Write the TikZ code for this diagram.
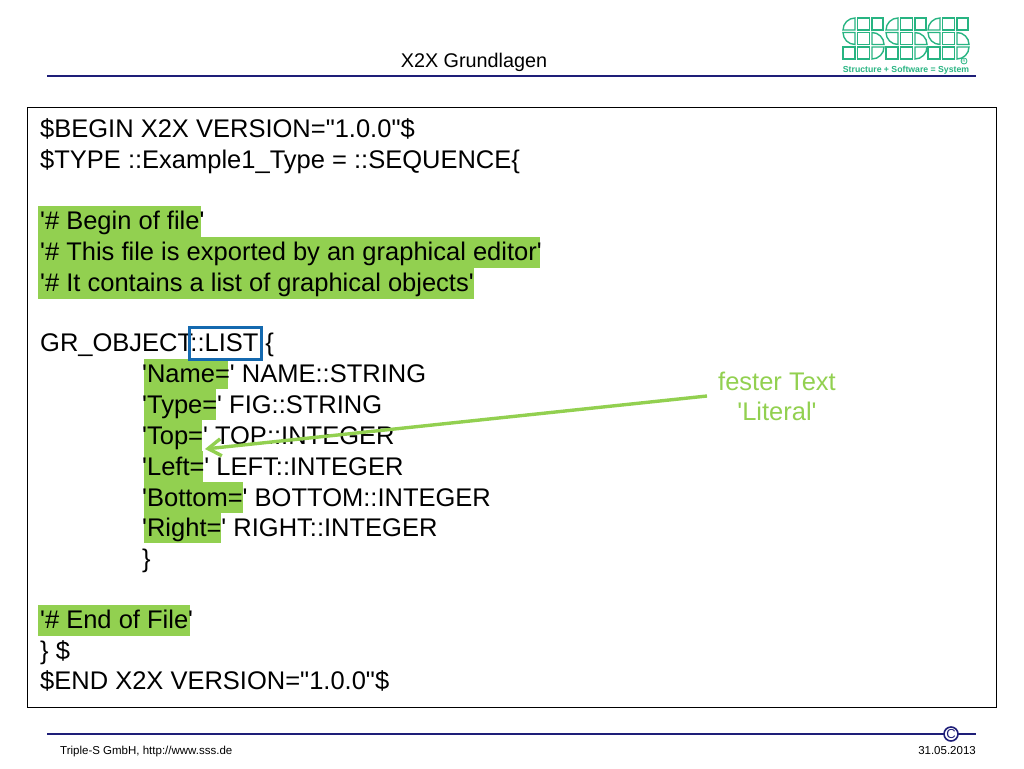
\documentclass[tikz,border=0pt]{standalone}
\usepackage{fontspec}
\setmainfont{Liberation Sans}[Ligatures=TeXOff]
\usetikzlibrary{arrows.meta}
\definecolor{hlgreen}{RGB}{146,208,80}
\definecolor{navyline}{RGB}{30,30,120}
\definecolor{boxblue}{RGB}{20,105,175}
\definecolor{logogreen}{RGB}{40,180,130}
\tikzset{
  codeline/.style={anchor=base west,inner sep=0pt,font=\fontsize{25.5}{30}\selectfont},
  mark green/.style={fill=hlgreen,draw=none},
  rule line/.style={draw=navyline,line width=1.1pt},
  logo cell/.style={draw=logogreen,line width=1.4pt}
}
\newcommand{\logoS}[1]{%
  \begin{scope}[shift={(#1,0)}]
  \draw[logo cell] (0,30) .. controls (0,23.4) and (5.4,18) .. (12,18) -- (12,30) -- cycle;
  \draw[logo cell] (14.5,18) rectangle (26.5,30);
  \draw[logo cell] (29,18) rectangle (40,30);
  \draw[logo cell] (0,32.5) .. controls (0,39.1) and (5.4,44.5) .. (12,44.5) -- (12,32.5) -- cycle;
  \draw[logo cell] (14.5,32.5) rectangle (26.5,44.5);
  \draw[logo cell] (29,32.5) .. controls (35.6,32.5) and (41,37.9) .. (41,44.5) -- (29,44.5) -- cycle;
  \draw[logo cell] (0,47) rectangle (12,59);
  \draw[logo cell] (14.5,47) rectangle (26.5,59);
  \draw[logo cell] (41,47) .. controls (41,53.6) and (35.6,59) .. (29,59) -- (29,47) -- cycle;
  \end{scope}}
\begin{document}
\begin{tikzpicture}[x=1pt,y=-1pt]
\useasboundingbox (0,0) rectangle (1024,768);

% highlights
\fill[mark green] (38,206) rectangle (201,237);
\fill[mark green] (38,237) rectangle (540,268);
\fill[mark green] (38,268) rectangle (474,299);
\fill[mark green] (144,359) rectangle (228,389);
\fill[mark green] (144,389) rectangle (216,420);
\fill[mark green] (144,420) rectangle (202,451);
\fill[mark green] (144,451) rectangle (203,482);
\fill[mark green] (144,482) rectangle (243,513);
\fill[mark green] (144,513) rectangle (221,543);
\fill[mark green] (38,605) rectangle (190,636);

% header
\node[anchor=base,inner sep=0pt,font=\fontsize{19.8}{20}\selectfont] (title) at (474,67) {X2X Grundlagen};
\coordinate (headl) at (47,76);
\coordinate (headr) at (976,76);
\draw[rule line] (headl) -- (headr);

% frame
\node[draw,line width=1pt,minimum width=969pt,minimum height=600pt,inner sep=0pt] (frame) at (512,407) {};

% code
\node[codeline] (l1) at (40,137.5) {\$BEGIN X2X VERSION="1.0.0"\$};
\node[codeline] (l2) at (40,168.5) {\$TYPE ::Example1\_Type = ::SEQUENCE\{};
\node[codeline] (l3) at (40,229.5) {'\# Begin of file'};
\node[codeline] (l4) at (40,260.5) {'\# This file is exported by an graphical editor'};
\node[codeline] (l5) at (40,291.5) {'\# It contains a list of graphical objects'};
\node[codeline] (l6) at (40,351.5) {GR\_OBJECT::LIST \{};
\node[codeline] (l7) at (142,382.5) {'Name=' NAME::STRING};
\node[codeline] (l8) at (142,413.5) {'Type=' FIG::STRING};
\node[codeline] (l9) at (142,444) {'Top=' TOP::INTEGER};
\node[codeline] (l10) at (142,475) {'Left=' LEFT::INTEGER};
\node[codeline] (l11) at (142,506) {'Bottom=' BOTTOM::INTEGER};
\node[codeline] (l12) at (142,536.5) {'Right=' RIGHT::INTEGER};
\node[codeline] (l13) at (142,567.5) {\}};
\node[codeline] (l14) at (40,628.5) {'\# End of File'};
\node[codeline] (l15) at (40,659.5) {\} \$};
\node[codeline] (l16) at (40,689.5) {\$END X2X VERSION="1.0.0"\$};

% marker box
\node[draw=boxblue,line width=3pt,minimum width=72pt,minimum height=32pt,inner sep=0pt] (listbox) at (225.5,343.5) {};

% note
\node[align=center,text=hlgreen,inner sep=0pt,font=\fontsize{25.5}{30.5}\selectfont] (note) at (777,396.5) {fester Text\\'Literal'};
\coordinate (notetail) at (707,396);
\coordinate (notetip) at (205,449);
\draw[hlgreen,line width=3.4pt,-{Straight Barb[length=13pt,width=17pt]}] (notetail) -- (notetip);

% logo
\logoS{843}
\logoS{886}
\logoS{928}
\node[inner sep=0pt,text=logogreen,font=\fontsize{8.7}{10}\selectfont\bfseries] (slogan) at (906,70) {Structure + Software = System};
\node[draw=logogreen,circle,line width=.8pt,inner sep=0pt,minimum size=6pt,text=logogreen,font=\fontsize{4}{4}\selectfont] (reg) at (964,61) {R};

% footer
\coordinate (footl) at (47,734);
\coordinate (footr) at (976,734);
\draw[rule line] (footl) -- (footr);
\node[draw=navyline,fill=white,circle,line width=1.6pt,inner sep=0pt,minimum size=14pt,text=navyline,font=\fontsize{13}{13}\selectfont] (copyr) at (951,734) {C};
\node[anchor=base west,inner sep=0pt,font=\fontsize{11.5}{12}\selectfont] (footleft) at (60,754.5) {Triple-S GmbH, http://www.sss.de};
\node[anchor=base east,inner sep=0pt,font=\fontsize{11.5}{12}\selectfont] (footdate) at (976,754) {31.05.2013};
\end{tikzpicture}
\end{document}
